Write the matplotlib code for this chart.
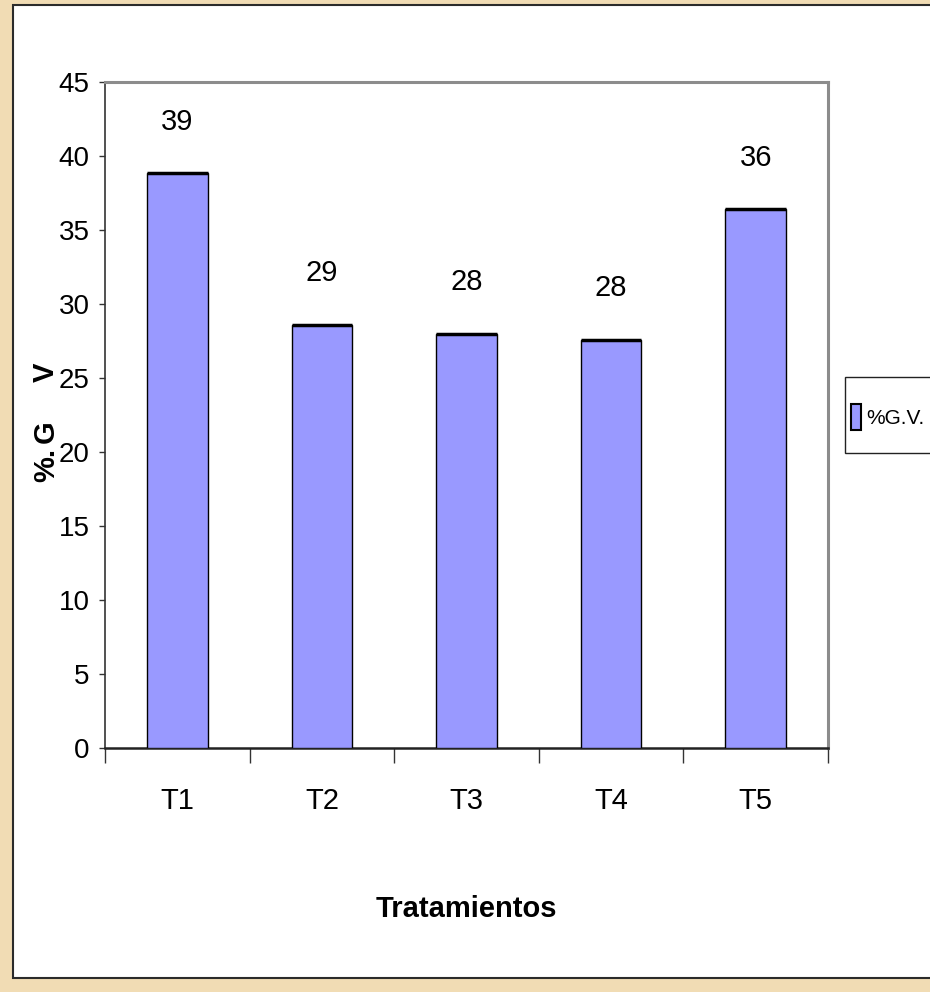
import matplotlib
matplotlib.use("Agg")
import matplotlib.pyplot as plt
from matplotlib.patches import Rectangle, Patch

# %G.V. per treatment
tratamientos = ["T1", "T2", "T3", "T4", "T5"]
gv = [38.85, 28.6, 28.0, 27.6, 36.4]
y_ticks = [0, 5, 10, 15, 20, 25, 30, 35, 40, 45]

BAR = "#9999FF"
plt.rcParams["font.family"] = ["Liberation Sans", "DejaVu Sans"]

W, H = 930, 992
fig = plt.figure(figsize=(W / 100, H / 100), dpi=100)
fig.patch.set_facecolor("#F1DCB4")

# white slide panel behind the chart
panel = Rectangle((13 / W, 1 - 978 / H), (W - 13) / W + 0.01, (978 - 5) / H,
                  transform=fig.transFigure, facecolor="white",
                  edgecolor="#2b2b2b", linewidth=1.5, zorder=-5)
fig.patches.append(panel)

ax = fig.add_axes([105 / W, 1 - 748 / H, 723 / W, 666 / H])
ax.set_zorder(2)
ax.set_facecolor("white")

x = list(range(len(tratamientos)))
bars = ax.bar(x, gv, width=0.42, color=BAR, edgecolor="black",
              linewidth=1.0, zorder=3)
# heavier top edge on each bar
for b in bars:
    ax.plot([b.get_x(), b.get_x() + b.get_width()], [b.get_height()] * 2,
            color="black", linewidth=2.5, zorder=4, solid_capstyle="butt")

for xi, v in zip(x, gv):
    ax.annotate(f"{v:.0f}", (xi, v), xytext=(0, 37), textcoords="offset points",
                ha="center", va="center", fontsize=21)

ax.set_xlim(-0.5, len(tratamientos) - 0.5)
ax.set_ylim(0, 45)

# category separators as major ticks, names as minor ticks
ax.set_xticks([i - 0.5 for i in range(len(tratamientos) + 1)])
ax.set_xticklabels([])
ax.set_xticks(x, minor=True)
ax.set_xticklabels(tratamientos, minor=True, fontsize=21)
ax.tick_params(axis="x", which="major", direction="out", length=11,
               width=1, color="#333333")
ax.tick_params(axis="x", which="minor", length=0, pad=28)

ax.set_yticks(y_ticks)
ax.set_yticklabels([str(t) for t in y_ticks], fontsize=20)
ax.tick_params(axis="y", direction="out", length=4, width=1,
               color="#333333", pad=7)

ax.spines["top"].set_color("#8c8c8c")
ax.spines["top"].set_linewidth(2.2)
ax.spines["right"].set_color("#8c8c8c")
ax.spines["right"].set_linewidth(2.2)
ax.spines["left"].set_color("#333333")
ax.spines["left"].set_linewidth(1.2)
ax.spines["bottom"].set_color("#222222")
ax.spines["bottom"].set_linewidth(1.8)

ax.set_xlabel("Tratamientos", fontsize=21, fontweight="bold", labelpad=58)

# broken vertical axis title
for txt, yp in [("%.", 465), ("G", 432), ("V", 372)]:
    fig.text(46 / W, 1 - yp / H, txt, rotation=90, ha="center", va="center",
             fontsize=21, fontweight="bold")

# legend box runs off the right edge, so draw its frame separately
leg_box = Rectangle((845 / W, 1 - 453 / H), 100 / W, 76 / H,
                    transform=fig.transFigure, facecolor="white",
                    edgecolor="#222222", linewidth=1.0, zorder=3)
fig.patches.append(leg_box)

handle = Patch(facecolor=BAR, edgecolor="black", linewidth=1.5)
leg = fig.legend([handle], ["%G.V."], loc="center left",
                 bbox_to_anchor=(851 / W, 1 - 417 / H), fontsize=15,
                 frameon=False, handlelength=0.5, handleheight=1.6,
                 handletextpad=0.25, borderpad=0, borderaxespad=0)
leg.set_zorder(4)

fig.savefig("out.png", dpi=100, facecolor=fig.get_facecolor())
